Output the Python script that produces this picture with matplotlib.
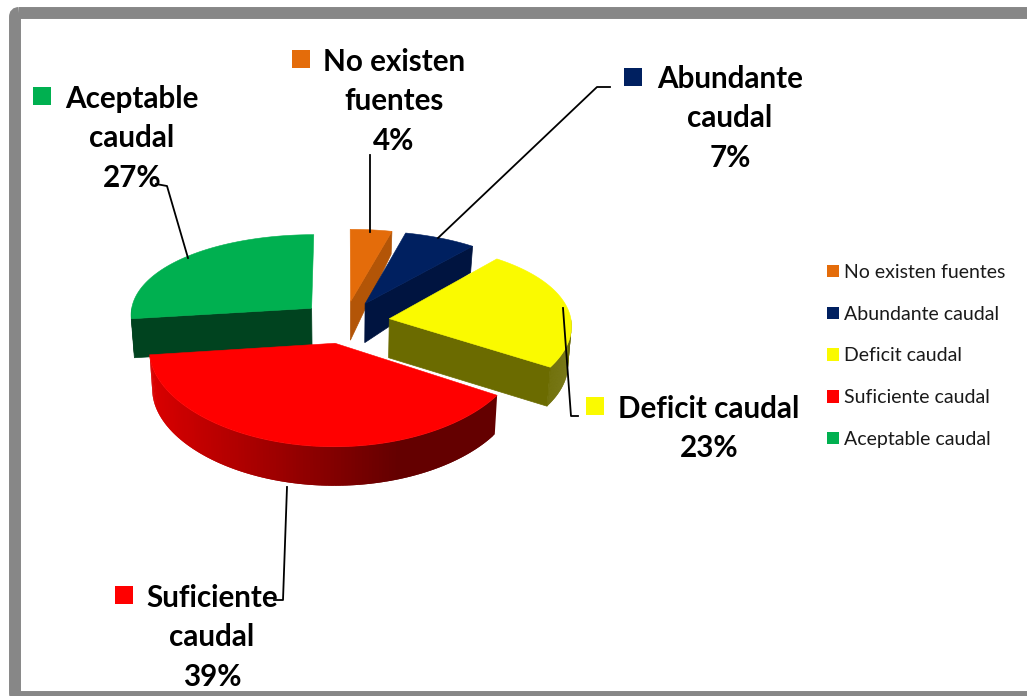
import numpy as np
import matplotlib
matplotlib.use("Agg")
import matplotlib.pyplot as plt
from matplotlib.patches import Polygon, Rectangle, FancyBboxPatch, Patch

# ---- data ----
categories = ["No existen fuentes", "Abundante caudal", "Deficit caudal",
              "Suficiente caudal", "Aceptable caudal"]
values = [4, 7, 23, 39, 27]
callout_text = ["No existen\nfuentes", "Abundante\ncaudal", "Deficit caudal",
                "Suficiente\ncaudal", "Aceptable\ncaudal"]

# ---- style ----
top_colors = ["#E46C0A", "#002060", "#FAFA00", "#FF0000", "#00B050"]
side_colors = ["#B35507", "#001440", "#6B6B00", None, "#00431F"]
draw_order = [0, 1, 4, 2, 3]
FONT = "Lato"
BG_FRAME = "#878787"

# pie geometry, in pixels
CX, CY = 345, 322
R, EXPLODE = 182, 45
SQUASH, PERSP, PERSP_X = 0.47, 0.12, 0.07

fig = plt.figure(figsize=(10.27, 6.96), dpi=100)
ax = fig.add_axes([0, 0, 1, 1])
ax.set_xlim(0, 1027)
ax.set_ylim(696, 0)
ax.axis("off")


def world(theta, rad, mid):
    """Point of an exploded slice; theta clockwise from the back, degrees."""
    t, m = np.radians(theta), np.radians(mid)
    return (EXPLODE * np.sin(m) + rad * np.sin(t),
            EXPLODE * np.cos(m) + rad * np.cos(t))


def project(theta, rad, mid, lower=False):
    X, Y = world(theta, rad, mid)
    sx = CX + X / (1 + PERSP_X * Y / R)
    sy = CY - SQUASH * Y / (1 + PERSP * Y / R)
    if lower:
        depth = 39 - np.maximum(Y - 40, 0) * 0.09
        sx = CX - 5 + (sx - CX + 5) * 0.985
        sy = sy + depth
    return np.column_stack([np.atleast_1d(sx), np.atleast_1d(sy)])


def quad(t0, r0, t1, r1, mid, color, z, edge=False):
    pts = np.vstack([project(t0, r0, mid), project(t1, r1, mid),
                     project(t1, r1, mid, True), project(t0, r0, mid, True)])
    ax.add_patch(Polygon(pts, closed=True, facecolor=color,
                         edgecolor=color if edge else "none",
                         lw=0.5 if edge else 0, zorder=z))


edges = np.concatenate([[0], np.cumsum(values)]) * 360.0 / sum(values)
for order, i in enumerate(draw_order):
    a0, a1 = edges[i], edges[i + 1]
    mid = (a0 + a1) / 2
    z = 2 + order
    # curved rim on the front half; strips overlap so that no seams show
    lo, hi = max(a0, 90), min(a1, 270)
    if lo < hi:
        steps = np.linspace(lo, hi, 140)
        for n in range(len(steps) - 1):
            s0, s1 = steps[n], steps[min(n + 2, len(steps) - 1)]
            if side_colors[i] is None:
                xm = project(s0, R, mid)[0, 0]
                f = np.clip((xm - 150) / 250, 0, 1)
                col = ((218 - 118 * f) / 255, 0, 0)
            else:
                col = side_colors[i]
            quad(s0, R, s1, R, mid, col, z + 0.1 * n / len(steps))
    # straight cut face, seen on the slices opening towards the viewer
    if i in (0, 1, 2):
        quad(a1, 0, a1, R, mid, side_colors[i], z + 0.2, edge=True)
    if i == 4:
        quad(a0, 0, a0, R, mid, side_colors[i], z + 0.2, edge=True)
    # top face
    arc = project(np.linspace(a0, a1, 120), R, mid)
    apex = project(mid, 0, mid)
    ax.add_patch(Polygon(np.vstack([apex, arc]), closed=True,
                         facecolor=top_colors[i], edgecolor=top_colors[i],
                         lw=0.4, zorder=z + 0.5))

# ---- leader lines ----
leaders = [
    [(370, 232), (370, 155)],
    [(438, 238), (597, 87), (610, 87)],
    [(563, 308), (571, 416), (578, 416)],
    [(287, 487), (283, 600), (274, 600)],
    [(188, 258), (167, 186), (156, 184)],
]
for pts in leaders:
    xs, ys = zip(*pts)
    ax.plot(xs, ys, color="black", lw=1.3, zorder=10, solid_joinstyle="round")

# ---- data callouts ----
callout_x = [394, 730, 709, 212, 132]
callout_y = [59.5, 76.5, 406.5, 595.5, 96.5]
key_xy = [(292, 50), (624, 68), (586, 397), (115, 586), (33, 87)]
LINE = 39.3
for i in range(len(values)):
    lines = callout_text[i].split("\n") + [f"{values[i]}%"]
    for n, line in enumerate(lines):
        ax.text(callout_x[i], callout_y[i] + n * LINE, line, ha="center",
                va="center_baseline", family=FONT, weight="bold", fontsize=21.3,
                color="black", zorder=11)
    ax.add_patch(Rectangle(key_xy[i], 18, 18, facecolor=top_colors[i],
                           edgecolor="none", zorder=11))

# ---- legend ----
handles = [Patch(facecolor=c, edgecolor="none") for c in top_colors]
ax.legend(handles, categories, loc="upper left",
          bbox_to_anchor=(827 / 1027, 1 - 264 / 696), frameon=False,
          prop={"family": FONT, "size": 14}, labelcolor="#1a1a1a",
          handlelength=0.62, handleheight=0.62, handletextpad=0.26,
          labelspacing=1.27, borderpad=0, borderaxespad=0)

# ---- frame ----
ax.add_patch(FancyBboxPatch((15, 13), 1060, 684,
                            boxstyle="round,pad=0,rounding_size=4",
                            facecolor="none", edgecolor=BG_FRAME, lw=8.6,
                            zorder=20, clip_on=True))

fig.savefig("out.png", dpi=100)
